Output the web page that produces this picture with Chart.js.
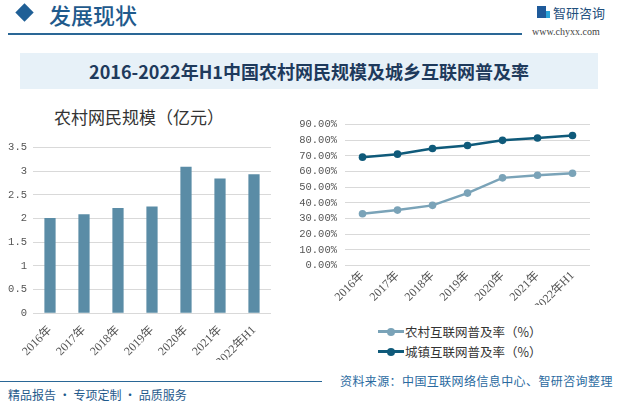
<!DOCTYPE html>
<html>
<head>
<meta charset="utf-8">
<script src="https://cdn.jsdelivr.net/npm/chart.js@4"></script>
<style>
  html,body{margin:0;padding:0;background:#fff;}
  body{width:622px;height:404px;position:relative;overflow:hidden;font-family:"Noto Sans CJK SC","Noto Sans",sans-serif;}
  .abs{position:absolute;}
  #diamond{left:18px;top:6px;width:13px;height:13px;background:#1f5f96;transform:rotate(45deg);}
  #head{left:49px;top:-2px;font-size:22px;color:#1f5a8c;font-weight:500;}
  #hline{left:8px;top:33px;width:514px;height:2px;background:#2a6796;}
  #logotext{left:553px;top:3px;font-size:13px;color:#1f4f7c;}
  #url{left:532px;top:26px;font-size:10px;color:#444;font-family:"Liberation Serif",serif;}
  #icon1{left:537px;top:6px;width:9px;height:12px;background:#1f5a9a;}
  #icon2{left:546px;top:11px;width:4px;height:7px;background:#2aa3d8;}
  #tbox{left:20px;top:53px;width:578px;height:36px;background:#e7f1f8;}
  #title{left:20px;top:53px;width:578px;height:36px;line-height:36px;text-align:center;font-size:18px;font-weight:700;color:#1e3a5c;font-family:"Noto Sans CJK SC",serif;}
  #ltitle{left:54px;top:104px;font-size:17px;color:#333;}
  #c1wrap{left:0px;top:135px;width:285px;height:225px;}
  #c2wrap{left:290px;top:110px;width:320px;height:195px;}
  .leg{left:378px;font-size:12.5px;color:#333;display:flex;align-items:center;}
  .leg .ln{width:26px;height:3px;position:relative;margin-right:1px;}
  .leg .ln i{position:absolute;left:9px;top:-2.5px;width:8px;height:8px;border-radius:50%;}
  #bline1{left:0px;top:381px;width:322px;height:1px;background:#2a6796;}
  #source{left:340px;top:372px;font-size:12px;color:#2a6aa0;letter-spacing:0.4px;}
  #slogan{left:8px;top:386px;font-size:12px;color:#1f5a8c;}
</style>
</head>
<body>
<div id="diamond" class="abs"></div>
<div id="head" class="abs">发展现状</div>
<div id="hline" class="abs"></div>
<div id="icon1" class="abs"></div><div id="icon2" class="abs"></div>
<div id="logotext" class="abs">智研咨询</div>
<div id="url" class="abs">www.chyxx.com</div>
<div id="tbox" class="abs"></div>
<div id="title" class="abs">2016-2022年H1中国农村网民规模及城乡互联网普及率</div>
<div id="ltitle" class="abs">农村网民规模（亿元）</div>
<div id="c1wrap" class="abs"><canvas id="c1"></canvas></div>
<div id="c2wrap" class="abs"><canvas id="c2"></canvas></div>
<div class="abs leg" style="top:322px;"><span class="ln" style="background:#7aa3b8"><i style="background:#7aa3b8"></i></span>农村互联网普及率（%）</div>
<div class="abs leg" style="top:342px;"><span class="ln" style="background:#0f5a7a"><i style="background:#0f5a7a"></i></span>城镇互联网普及率（%）</div>
<div id="bline1" class="abs"></div>
<div id="source" class="abs">资料来源：中国互联网络信息中心、智研咨询整理</div>
<div id="slogan" class="abs">精品报告 · 专项定制 · 品质服务</div>
<script>
const categories = ["2016年","2017年","2018年","2019年","2020年","2021年","2022年H1"];
const ruralUsers = [2.01, 2.09, 2.22, 2.25, 3.09, 2.84, 2.93];
const ruralRate = [33.1, 35.4, 38.4, 46.2, 55.9, 57.6, 58.8];
const urbanRate = [69.1, 71.0, 74.6, 76.5, 79.8, 81.3, 82.9];
const leftTicks = ["0","0.5","1","1.5","2","2.5","3","3.5"];

const tickFont = {family:"'Liberation Mono','Noto Sans CJK SC',monospace", size:10.5};
const xFont = {family:"'Liberation Serif','Noto Sans CJK SC',serif", size:12};

new Chart(document.getElementById('c1'), {
  type:'bar',
  data:{labels:categories, datasets:[{data:ruralUsers, backgroundColor:'#5a8ca6', barPercentage:0.33, categoryPercentage:1}]},
  options:{
    responsive:true, maintainAspectRatio:false, animation:false,
    layout:{padding:{top:11.7,right:14,left:0,bottom:0}},
    plugins:{legend:{display:false},tooltip:{enabled:false}},
    scales:{
      x:{grid:{display:false, drawTicks:false}, border:{display:false},
         ticks:{color:'#555', font:xFont, minRotation:45, maxRotation:45, padding:10},
         afterFit:(s)=>{s.height=46.7;}},
      y:{min:0,max:3.5, grid:{color:'#d9d9d9', drawTicks:false}, border:{display:false},
         ticks:{stepSize:0.5, color:'#555', font:tickFont, padding:6,
                callback:(v,i)=>leftTicks[i]},
         afterFit:(s)=>{s.width=33;}}
    }
  }
});

new Chart(document.getElementById('c2'), {
  type:'line',
  data:{labels:categories, datasets:[
    {data:ruralRate, borderColor:'#7aa3b8', backgroundColor:'#7aa3b8', borderWidth:2.5, pointRadius:3.8, pointBackgroundColor:'#7aa3b8', pointBorderWidth:0, tension:0},
    {data:urbanRate, borderColor:'#0f5a7a', backgroundColor:'#0f5a7a', borderWidth:2.5, pointRadius:3.8, pointBackgroundColor:'#0f5a7a', pointBorderWidth:0, tension:0}
  ]},
  options:{
    responsive:true, maintainAspectRatio:false, animation:false,
    layout:{padding:{top:10.7,right:20,left:0,bottom:0}},
    plugins:{legend:{display:false},tooltip:{enabled:false}},
    scales:{
      x:{offset:true, grid:{display:false, drawTicks:false}, border:{display:false},
         ticks:{color:'#555', font:xFont, minRotation:45, maxRotation:45, padding:3},
         afterFit:(s)=>{s.height=39.3;}},
      y:{min:0,max:90, grid:{color:'#d9d9d9', drawTicks:false}, border:{display:false},
         ticks:{stepSize:10, color:'#555', font:tickFont, padding:8,
                callback:(v)=>v.toFixed(2)+'%'},
         afterFit:(s)=>{s.width=55;}}
    }
  }
});
</script>
</body>
</html>
